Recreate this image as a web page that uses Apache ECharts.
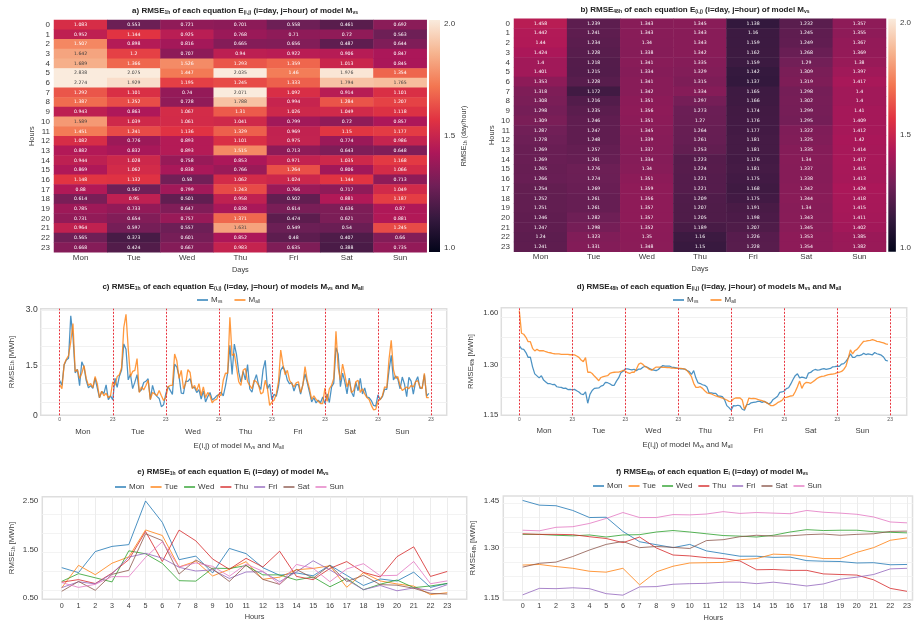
<!DOCTYPE html>
<html><head><meta charset="utf-8">
<style>html,body{margin:0;padding:0;background:#fff}#c{width:914px;height:623px}</style>
<script src="https://cdn.jsdelivr.net/npm/echarts@6/dist/echarts.min.js"></script>
</head><body><div id="c"></div>
<script>
const days=['Mon','Tue','Wed','Thu','Fri','Sat','Sun'];
const hours=['0','1','2','3','4','5','6','7','8','9','10','11','12','13','14','15','16','17','18','19','20','21','22','23'];
// RMSE 1h of model Mvs, one array per day
const r1Mon=[1.083,0.952,1.507,1.642,1.689,2.838,2.274,1.292,1.387,0.943,1.589,1.451,1.082,0.882,0.944,0.869,1.148,0.88,0.614,0.785,0.731,0.964,0.565,0.668];
const r1Tue=[0.553,1.144,0.898,1.2,1.366,2.075,1.929,1.101,1.252,0.863,1.039,1.241,0.776,0.832,1.028,1.062,1.132,0.567,0.95,0.733,0.654,0.597,0.373,0.424];
const r1Wed=[0.721,0.925,0.816,0.707,1.526,1.447,1.195,0.74,0.728,1.067,1.061,1.136,0.893,0.893,0.758,0.838,0.58,0.799,0.501,0.647,0.757,0.557,0.601,0.667];
const r1Thu=[0.701,0.768,0.665,0.94,1.293,2.035,1.245,2.071,1.788,1.31,1.041,1.329,1.101,1.515,0.853,0.766,1.062,1.243,0.958,0.838,1.371,1.631,0.852,0.983];
const r1Fri=[0.558,0.71,0.656,0.922,1.359,1.46,1.333,1.092,0.994,1.026,0.799,0.969,0.975,0.713,0.971,1.264,1.024,0.766,0.502,0.614,0.474,0.549,0.48,0.635];
const r1Sat=[0.461,0.72,0.487,0.906,1.013,1.976,1.794,0.914,1.284,1.049,0.72,1.15,0.774,0.643,1.035,0.806,1.144,0.717,0.881,0.636,0.621,0.54,0.407,0.388];
const r1Sun=[0.692,0.563,0.644,0.847,0.845,1.354,1.765,1.101,1.207,1.118,0.857,1.177,0.986,0.648,1.168,1.066,0.713,1.049,1.187,0.87,0.881,1.245,0.66,0.735];
// RMSE 48h of model Mvs, one array per day
const r48Mon=[1.458,1.442,1.44,1.424,1.4,1.401,1.353,1.318,1.308,1.298,1.309,1.287,1.278,1.269,1.269,1.265,1.266,1.254,1.252,1.251,1.246,1.247,1.24,1.241];
const r48Tue=[1.239,1.241,1.234,1.228,1.218,1.215,1.228,1.172,1.216,1.235,1.246,1.247,1.248,1.257,1.261,1.276,1.274,1.269,1.261,1.261,1.282,1.298,1.323,1.331];
const r48Wed=[1.343,1.343,1.34,1.338,1.341,1.334,1.341,1.342,1.351,1.356,1.351,1.345,1.339,1.337,1.334,1.34,1.351,1.359,1.356,1.357,1.357,1.352,1.35,1.348];
const r48Thu=[1.345,1.343,1.343,1.342,1.335,1.329,1.315,1.334,1.297,1.273,1.27,1.264,1.261,1.253,1.223,1.224,1.221,1.221,1.209,1.207,1.205,1.189,1.16,1.15];
const r48Fri=[1.138,1.16,1.159,1.162,1.159,1.142,1.137,1.165,1.166,1.174,1.176,1.177,1.181,1.181,1.176,1.181,1.175,1.168,1.175,1.191,1.198,1.207,1.226,1.228];
const r48Sat=[1.232,1.245,1.249,1.268,1.29,1.309,1.319,1.298,1.302,1.299,1.295,1.322,1.325,1.335,1.34,1.337,1.338,1.342,1.344,1.34,1.343,1.345,1.353,1.354];
const r48Sun=[1.357,1.355,1.367,1.369,1.38,1.397,1.417,1.4,1.4,1.41,1.409,1.412,1.42,1.414,1.417,1.415,1.413,1.424,1.418,1.415,1.411,1.402,1.385,1.382];
const all1h=[0.97,0.86,1.52,1.66,1.76,2.14,2.63,1.33,1.38,1.14,1.28,1.49,1.14,0.95,1.0,0.89,1.19,1.0,0.62,0.79,0.67,0.74,0.62,0.67,
1.05,0.95,1.19,1.24,1.43,2.52,2.88,1.95,1.19,1.33,1.36,1.68,0.76,0.91,0.83,0.95,1.09,0.57,0.76,0.72,0.67,0.81,0.67,0.54,
0.62,0.91,0.95,0.95,1.8,1.62,1.14,1.36,0.86,1.0,1.38,1.3,0.86,0.95,0.81,1.0,0.67,0.91,0.62,0.76,0.67,0.48,0.55,0.57,
0.72,0.67,1.09,1.28,1.28,2.8,1.76,1.81,1.43,1.05,0.95,1.36,1.41,1.05,0.95,0.86,1.09,1.05,0.95,0.72,0.76,1.09,0.86,0.41,
0.5,0.55,0.72,1.05,1.91,1.52,1.24,1.36,1.09,1.0,0.91,1.02,1.05,0.76,0.95,1.46,1.09,0.86,0.57,0.67,0.57,0.52,0.46,0.46,
0.88,0.52,0.86,0.95,1.14,2.42,1.43,1.09,1.53,1.24,0.91,1.09,0.76,0.81,1.05,1.09,0.76,0.86,0.72,0.62,0.57,0.41,0.29,0.3,
0.52,0.57,0.67,0.91,0.89,1.66,2.17,1.38,1.14,1.19,0.95,0.81,0.86,0.91,0.86,0.95,0.91,1.05,1.08,0.91,0.86,1.28,0.62,0.62];
const all48h=[1.632,1.52,1.515,1.5,1.478,1.478,1.445,1.432,1.44,1.433,1.433,1.433,1.428,1.425,1.423,1.42,1.418,1.417,1.417,1.415,1.415,1.415,1.415,1.413,
1.413,1.412,1.407,1.4,1.387,1.379,1.399,1.326,1.327,1.32,1.307,1.296,1.284,1.3,1.304,1.307,1.309,1.32,1.324,1.326,1.327,1.327,1.33,1.336,
1.332,1.324,1.32,1.326,1.326,1.34,1.365,1.372,1.365,1.354,1.349,1.34,1.336,1.345,1.352,1.352,1.352,1.35,1.35,1.349,1.349,1.347,1.347,1.345,
1.345,1.345,1.344,1.342,1.334,1.32,1.304,1.271,1.251,1.251,1.254,1.246,1.234,1.224,1.221,1.218,1.213,1.208,1.205,1.201,1.198,1.193,1.188,1.181,
1.18,1.193,1.198,1.198,1.198,1.188,1.142,1.163,1.198,1.195,1.196,1.195,1.191,1.188,1.185,1.18,1.175,1.168,1.16,1.16,1.166,1.175,1.18,1.186,
1.2,1.201,1.205,1.208,1.21,1.229,1.254,1.282,1.246,1.268,1.276,1.274,1.271,1.279,1.287,1.296,1.302,1.306,1.307,1.311,1.314,1.316,1.317,1.319,
1.324,1.326,1.33,1.34,1.357,1.395,1.437,1.417,1.433,1.44,1.453,1.467,1.48,1.481,1.483,1.485,1.488,1.485,1.48,1.478,1.475,1.472,1.467,1.465];
const r1Days=[r1Mon,r1Tue,r1Wed,r1Thu,r1Fri,r1Sat,r1Sun];
const r48Days=[r48Mon,r48Tue,r48Wed,r48Thu,r48Fri,r48Sat,r48Sun];
const weekEdges=[0,24,48,72,96,120,144,168];

const FONT='"Liberation Sans",Arial,sans-serif';
const INK='#3a3a3a';
const rocketStops=['#03051a','#35193e','#701f57','#ad1759','#e13342','#f37651','#f6b48f','#faebdd'];
const tab={Mon:'#1f77b4',Tue:'#ff7f0e',Wed:'#2ca02c',Thu:'#d62728',Fri:'#9467bd',Sat:'#8c564b',Sun:'#e377c2',Mvs:'#1f77b4',Mall:'#ff7f0e'};
const subRich=(size,bold)=>({sub:{fontSize:size,fontFamily:FONT,fontWeight:bold?'bold':'normal',color:bold?'#222':INK,verticalAlign:'bottom',padding:[3,0,0,0]}});

const grids=[],xAxes=[],yAxes=[],series=[],titles=[],legends=[],visualMaps=[];
function addGrid(l,t,w,h,frame){
  grids.push({left:l,top:t,width:w,height:h,show:!!frame,borderColor:'#dedede',borderWidth:1.5,backgroundColor:'transparent',containLabel:false});
  return grids.length-1;
}
function title(text,cx,top){
  titles.push({text,left:cx,top,textAlign:'center',padding:0,textStyle:{fontSize:8,fontWeight:'bold',color:'#222',fontFamily:FONT,rich:subRich(5,true)}});
}
function heat(gi,arrs,vmin,vmax,nameGapY){
  const xi=xAxes.length;
  xAxes.push({type:'category',gridIndex:gi,data:days,axisLine:{show:false},axisTick:{show:false},splitLine:{show:false},
    axisLabel:{fontSize:8,color:INK,fontFamily:FONT,margin:1,interval:0},name:'Days',nameLocation:'middle',nameGap:14,nameTextStyle:{fontSize:7.4,color:INK,fontFamily:FONT}});
  const yi=yAxes.length;
  yAxes.push({type:'category',gridIndex:gi,data:hours,inverse:true,axisLine:{show:false},axisTick:{show:false},splitLine:{show:false},
    axisLabel:{fontSize:8,color:INK,fontFamily:FONT,margin:4,interval:0},name:'Hours',nameLocation:'middle',nameGap:nameGapY,nameRotate:90,nameTextStyle:{fontSize:7.4,color:INK,fontFamily:FONT}});
  const data=[];
  arrs.forEach((col,d)=>col.forEach((v,h)=>data.push({value:[d,h,v],label:{color:v>1.55?'#3d3d3d':'#ffffff'}})));
  const si=series.length;
  series.push({type:'heatmap',xAxisIndex:xi,yAxisIndex:yi,data,silent:true,progressive:0,
    label:{show:true,fontSize:4.6,fontFamily:'"DejaVu Sans",sans-serif',formatter:p=>String(p.value[2])},emphasis:{disabled:true}});
  visualMaps.push({show:false,type:'continuous',seriesIndex:si,dimension:2,min:vmin,max:vmax,inRange:{color:rocketStops}});
}
function colorbar(gi,name){
  const xi=xAxes.length;
  xAxes.push({type:'category',gridIndex:gi,data:[''],axisLine:{show:false},axisTick:{show:false},axisLabel:{show:false},splitLine:{show:false}});
  const yi=yAxes.length;
  yAxes.push({type:'value',gridIndex:gi,position:'right',min:1,max:2,interval:0.5,axisLine:{show:false},axisTick:{show:false},splitLine:{show:false},
    axisLabel:{fontSize:8,color:INK,fontFamily:FONT,margin:4,formatter:v=>v.toFixed(1),verticalAlignMinLabel:'bottom',verticalAlignMaxLabel:'top'},
    name:name||'',nameLocation:'middle',nameGap:20,nameRotate:90,nameTextStyle:{fontSize:7.2,color:INK,fontFamily:FONT,rich:subRich(4.6)}});
  const stops=rocketStops.map((c,i)=>({offset:i/(rocketStops.length-1),color:c}));
  series.push({type:'bar',xAxisIndex:xi,yAxisIndex:yi,data:[2],barWidth:'100%',silent:true,
    itemStyle:{color:{type:'linear',x:0,y:1,x2:0,y2:0,colorStops:stops}}});
}
function lineSeries(name,xi,yi,data,width,extra){
  return Object.assign({type:'line',name,xAxisIndex:xi,yAxisIndex:yi,data,symbol:'none',silent:true,animation:false,
    itemStyle:{color:tab[name]},lineStyle:{color:tab[name],width,opacity:0.8}},extra||{});
}
function weekPanel(gi,o){
  const xi=xAxes.length;
  xAxes.push({type:'value',gridIndex:gi,min:o.xmin,max:o.xmax,axisLine:{show:false},splitLine:{show:false},
    axisTick:{show:false,customValues:weekEdges},
    axisLabel:{fontSize:5,color:'#555',fontFamily:FONT,margin:2,customValues:weekEdges,formatter:v=>v===0?'0':'23'},
    name:o.xName,nameLocation:'middle',nameGap:o.xGap,nameTextStyle:{fontSize:7.8,color:INK,fontFamily:FONT,rich:subRich(4.8),padding:[0,o.xNameShift,0,0]}});
  xAxes.push({type:'value',gridIndex:gi,position:'bottom',offset:o.dayOffset,min:o.xmin,max:o.xmax,axisLine:{show:false},axisTick:{show:false},splitLine:{show:false},
    axisLabel:{fontSize:7.8,color:INK,fontFamily:FONT,margin:0,customValues:o.dayPos,formatter:v=>days[o.dayPos.indexOf(v)]}});
  const yi=yAxes.length;
  yAxes.push({type:'value',gridIndex:gi,min:o.ymin,max:o.ymax,axisLine:{show:false},
    axisTick:{show:false,customValues:o.grid},splitLine:{show:true,lineStyle:{color:'#f1f1f1',width:1}},
    axisLabel:{fontSize:o.labelSize,color:INK,fontFamily:FONT,margin:3,customValues:o.labelPos,formatter:v=>o.labels[o.labelPos.indexOf(v)]},
    name:o.yName,nameLocation:'middle',nameGap:o.yGap,nameTextStyle:{fontSize:7.8,color:INK,fontFamily:FONT,rich:subRich(4.6)}});
  series.push(lineSeries('Mvs',xi,yi,o.vs.map((v,i)=>[i,v]),1.25,{markLine:{silent:true,symbol:'none',animation:false,label:{show:false},
    lineStyle:{color:'#e8323c',type:[2,1.5],width:1},data:weekEdges.map(x=>({xAxis:x}))}}));
  series.push(lineSeries('Mall',xi,yi,o.all.map((v,i)=>[i,v]),1.3));
}
function hourPanel(gi,o){
  const positions=hours.map(Number);
  const xi=xAxes.length;
  xAxes.push({type:'value',gridIndex:gi,min:o.xmin,max:o.xmax,axisLine:{show:false},
    axisTick:{show:false,customValues:positions},splitLine:{show:true,lineStyle:{color:'#ececec',width:1}},
    axisLabel:{fontSize:7.2,color:INK,fontFamily:FONT,margin:3,customValues:positions,formatter:v=>String(v)},
    name:'Hours',nameLocation:'middle',nameGap:14,nameTextStyle:{fontSize:7.4,color:INK,fontFamily:FONT,padding:[0,0,0,o.nameShift]}});
  const yi=yAxes.length;
  yAxes.push({type:'value',gridIndex:gi,min:o.ymin,max:o.ymax,axisLine:{show:false},
    axisTick:{show:false,customValues:o.grid},splitLine:{show:true,lineStyle:{color:'#f3f3f3',width:1}},
    axisLabel:{fontSize:8,color:INK,fontFamily:FONT,margin:4,customValues:o.labelPos,formatter:v=>o.labels[o.labelPos.indexOf(v)]},
    name:o.yName,nameLocation:'middle',nameGap:o.yGap,nameTextStyle:{fontSize:7.8,color:INK,fontFamily:FONT,rich:subRich(4.6)}});
  o.arrs.forEach((a,i)=>series.push(lineSeries(days[i],xi,yi,a.map((v,h)=>[h,v]),1)));
}
function legend(left,top,names,gap,fs){
  legends.push({left,top,padding:0,data:names,icon:'rect',itemWidth:11,itemHeight:1.4,itemGap:gap,selectedMode:false,
    formatter:n=>n==='Mvs'?'M{sub|vs}':n==='Mall'?'M{sub|all}':n,
    textStyle:{fontSize:fs,color:INK,fontFamily:FONT,padding:[0,0,0,-2],rich:subRich(4.8)}});
}

// a
let g=addGrid(54,20,372.7,232.3); heat(g,r1Days,0,2,19);
g=addGrid(429,20,11,232); colorbar(g,'RMSE{sub|1h} (day/hour)');
title('a) RMSE{sub|1h} of each equation E{sub|(i,j)} (i=day, j=hour) of model M{sub|vs}',245,7);
// b
g=addGrid(514,18.7,372,233); heat(g,r48Days,1,2,19);
g=addGrid(888.3,18.7,11.5,233); colorbar(g);
title('b) RMSE{sub|48h} of each equation E{sub|(i,j)} (i=day, j=hour) of model M{sub|vs}',695,6);
// c
g=addGrid(40.7,308.7,406,106.6,true);
weekPanel(g,{xmin:-8.6,xmax:175.1,dayPos:[10.5,35.4,60.3,84,107.8,131.4,155],dayOffset:13,xGap:27,labelSize:8.6,ymin:0.14,ymax:3.03,grid:[0.5,1,1.5,2,2.5,3],labelPos:[0.14,1.5,3],labels:['0','1.5','3.0'],
  yName:'RMSE{sub|1h} [MWh]',yGap:25,xName:'E(i,j) of model M{sub|vs} and M{sub|all}',xNameShift:10,vs:r1Days.flat(),all:all1h});
title('c) RMSE{sub|1h} of each equation E{sub|(i,j)} (i=day, j=hour) of models M{sub|vs} and M{sub|all}',233,283);
legend(197,296,['Mvs','Mall'],12,8);
// d
g=addGrid(501.3,307.7,405.4,107.6,true);
weekPanel(g,{xmin:-8.16,xmax:175.5,dayPos:[11.2,36,60.7,84.2,108.3,132,155.4],dayOffset:12,xGap:26,labelSize:7.8,ymin:1.112,ymax:1.647,grid:[1.2,1.3,1.4,1.5,1.6],labelPos:[1.113,1.365,1.622],labels:['1.15','1.30','1.60'],
  yName:'RMSE{sub|48h} [MWh]',yGap:26,xName:'E(i,j) of model M{sub|vs} and M{sub|all}',xNameShift:33,vs:r48Days.flat(),all:all48h});
title('d) RMSE{sub|48h} of each equation E{sub|(i,j)} (i=day, j=hour) of models M{sub|vs} and M{sub|all}',709,283);
legend(673,296,['Mvs','Mall'],12,8);
// e
g=addGrid(42.3,496.7,424.4,102.6,true);
hourPanel(g,{xmin:-1.16,xmax:24.16,ymin:0.25,ymax:2.95,grid:[0.5,1,1.5,2,2.5],labelPos:[0.29,1.54,2.85],labels:['0.50','1.50','2.50'],
  yName:'RMSE{sub|1h} [MWh]',yGap:26,nameShift:0,arrs:r1Days});
title('e) RMSE{sub|1h} of each equation E{sub|i} (i=day) of model M{sub|vs}',233,468);
legend(115,483,days,6,8);
// f
g=addGrid(503.3,496,410.7,104,true);
hourPanel(g,{xmin:-1.157,xmax:23.33,ymin:1.1206,ymax:1.473,grid:[1.15,1.2,1.25,1.3,1.35,1.4,1.45],labelPos:[1.129,1.2966,1.458],labels:['1.15','1.30','1.45'],
  yName:'RMSE{sub|48h} [MWh]',yGap:26,nameShift:11,arrs:r48Days});
title('f) RMSE{sub|48h} of each equation E{sub|i} (i=day) of model M{sub|vs}',712,468);
legend(593,482,days,6,8);

const chart=echarts.init(document.getElementById('c'),null,{renderer:'canvas'});
chart.setOption({animation:false,backgroundColor:'#fff',textStyle:{fontFamily:FONT},title:titles,legend:legends,grid:grids,xAxis:xAxes,yAxis:yAxes,visualMap:visualMaps,series});
</script></body></html>
